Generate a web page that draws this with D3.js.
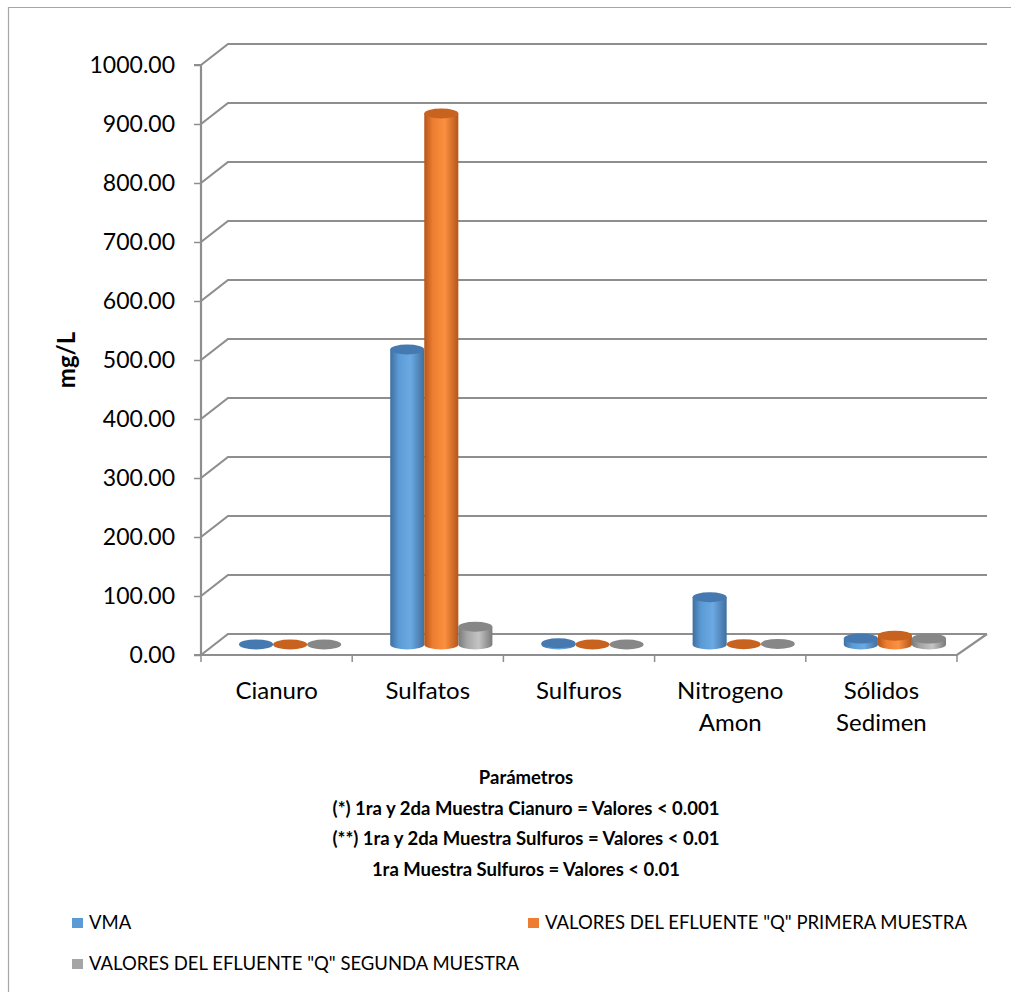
<!DOCTYPE html>
<html>
<head>
<meta charset="utf-8">
<script src="https://cdn.jsdelivr.net/npm/d3@7"></script>
<style>
  body { margin: 0; background: #fff; }
  svg { display: block; font-family: Lato, "Open Sans", sans-serif; }
</style>
</head>
<body>
<svg id="chart" width="1011" height="992"></svg>
<script>
// data
var categories = ["Cianuro", "Sulfatos", "Sulfuros", "Nitrogeno Amon", "Sólidos Sedimen"];
var seriesNames = ["VMA", "VALORES DEL EFLUENTE \"Q\" PRIMERA MUESTRA", "VALORES DEL EFLUENTE \"Q\" SEGUNDA MUESTRA"];
var vma = [0.2, 500, 2, 80, 10];
var primera = [0.001, 900, 0.01, 0.5, 15];
var segunda = [0.001, 30, 0.01, 1, 10];
var yTicks = [0, 100, 200, 300, 400, 500, 600, 700, 800, 900, 1000];
var notes = [
  "Parámetros",
  "(*) 1ra y 2da Muestra Cianuro = Valores < 0.001",
  "(**) 1ra y 2da Muestra Sulfuros = Valores < 0.01",
  "1ra Muestra Sulfuros = Valores < 0.01"
];

var seriesValues = [vma, primera, segunda];
var colors = [
  { light: "#6ba9e2", mid: "#5b9bd5", dark: "#3f6fa0", top: "#4579b0" },
  { light: "#fb9040", mid: "#ed7d31", dark: "#b5561a", top: "#c7621f" },
  { light: "#c4c4c4", mid: "#a5a5a5", dark: "#7a7a7a", top: "#878787" }
];

var svg = d3.select("#chart");
var gridColor = "#8e8e8e";

// 3d depth offset of the back wall
var dx = 27, dy = -21;
var left = 201, right = 957;

var y = d3.scaleLinear().domain([0, 1000]).range([655, 65]);
var x0 = d3.scaleBand().domain(categories).range([left, right]).padding(0);
var x1 = d3.scaleBand().domain(d3.range(seriesNames.length))
  .range([0, x0.bandwidth()]).paddingInner(0).paddingOuter(0.72);

// border
svg.append("path")
  .attr("d", "M8.5,992 L8.5,7.5 L1011,7.5")
  .attr("fill", "none").attr("stroke", "#a6a6a6").attr("stroke-width", 1.2);

// gradients for the cylinders
var defs = svg.append("defs");
colors.forEach(function(c, i) {
  var g = defs.append("linearGradient").attr("id", "cyl" + i)
    .attr("x1", "0%").attr("x2", "100%").attr("y1", "0%").attr("y2", "0%");
  g.append("stop").attr("offset", "0%").attr("stop-color", c.dark);
  g.append("stop").attr("offset", "25%").attr("stop-color", c.mid);
  g.append("stop").attr("offset", "60%").attr("stop-color", c.light);
  g.append("stop").attr("offset", "100%").attr("stop-color", c.dark);
});

// gridlines on the side and back walls
var grid = svg.append("g");
yTicks.forEach(function(t) {
  var yy = y(t);
  grid.append("path")
    .attr("d", "M" + left + "," + yy + " L" + (left + dx) + "," + (yy + dy) + " L" + (right + dx + 3) + "," + (yy + dy))
    .attr("fill", "none").attr("stroke", gridColor).attr("stroke-width", 2.2);
});
// floor front and right edge
grid.append("path")
  .attr("d", "M" + left + "," + y(0) + " L" + right + "," + y(0) + " L" + (right + dx + 3) + "," + (y(0) + dy))
  .attr("fill", "none").attr("stroke", gridColor).attr("stroke-width", 2.2);

// y axis
var yAxis = d3.axisLeft(y).tickValues(yTicks).tickFormat(d3.format(".2f")).tickSize(7).tickPadding(19);
var gy = svg.append("g").attr("transform", "translate(" + left + ",0)").call(yAxis);
gy.select(".domain").attr("stroke", gridColor).attr("stroke-width", 2.2).attr("d", "M-7," + y(1000) + "H0V" + y(0) + "H-7");
gy.selectAll(".tick line").attr("stroke", gridColor).attr("stroke-width", 1.5);
gy.selectAll(".tick text").attr("font-size", 23).attr("fill", "#000").attr("font-family", "Lato");

// x axis (labels at band centres, ticks at band edges)
var xAxis = d3.axisBottom(x0).tickSize(0).tickPadding(27);
var gx = svg.append("g").attr("transform", "translate(0," + y(0) + ")").call(xAxis);
gx.select(".domain").remove();
gx.selectAll(".tick text")
  .attr("font-size", 24).attr("fill", "#000").attr("font-family", "Lato")
  .each(function(d) {
    var words = d.split(" ");
    var t = d3.select(this).text(null);
    words.forEach(function(w, i) {
      t.append("tspan").attr("x", 0).attr("dy", i === 0 ? "0.71em" : "1.33em").text(w);
    });
  });
var edges = categories.map(function(c) { return x0(c); }).concat([right]);
gx.selectAll(".edge").data(edges).enter().append("line")
  .attr("x1", function(d) { return d; }).attr("x2", function(d) { return d; })
  .attr("y1", 0).attr("y2", 7)
  .attr("stroke", gridColor).attr("stroke-width", 1.5);

// cylinders
var rx = x1.bandwidth() / 2, ry = 5;
var bars = svg.append("g");
seriesValues.forEach(function(vals, s) {
  vals.forEach(function(v, i) {
    var cx = x0(categories[i]) + x1(s) + rx + dx / 2;
    var yb = y(0) + dy / 2;
    var yt = y(v) + dy / 2;
    var g = bars.append("g");
    if (yb - yt > 1) {
      g.append("path")
        .attr("d", "M" + (cx - rx) + "," + yt + " L" + (cx - rx) + "," + yb +
          " A" + rx + "," + ry + " 0 0 0 " + (cx + rx) + "," + yb +
          " L" + (cx + rx) + "," + yt + " Z")
        .attr("fill", "url(#cyl" + s + ")");
    }
    g.append("ellipse")
      .attr("cx", cx).attr("cy", yt).attr("rx", rx).attr("ry", ry)
      .attr("fill", colors[s].top);
  });
});

// y title
svg.append("text")
  .attr("transform", "translate(75," + ((y(0) + y(1000)) / 2) + ") rotate(-90)")
  .attr("text-anchor", "middle").attr("font-size", 24).attr("font-weight", "bold")
  .attr("font-family", "Lato")
  .text("mg/L");

// axis title and notes
svg.append("g").selectAll("text").data(notes).enter().append("text")
  .attr("x", 526).attr("y", function(d, i) { return 784 + i * 30.5; })
  .attr("text-anchor", "middle").attr("font-size", 18.5).attr("font-weight", "bold")
  .attr("font-family", "Lato")
  .text(function(d) { return d; });

// legend
var legendPos = [[72, 923], [528, 923], [72, 964]];
var lg = svg.append("g").selectAll("g").data(seriesNames).enter().append("g")
  .attr("transform", function(d, i) { return "translate(" + legendPos[i][0] + "," + legendPos[i][1] + ")"; });
lg.append("rect").attr("x", 0).attr("y", -5).attr("width", 11).attr("height", 10)
  .attr("fill", function(d, i) { return colors[i].mid; });
lg.append("text").attr("x", 17).attr("y", 0).attr("dy", "0.35em")
  .attr("font-size", 18.5).attr("font-family", "Lato").attr("fill", "#000")
  .text(function(d) { return d; });
</script>
</body>
</html>
